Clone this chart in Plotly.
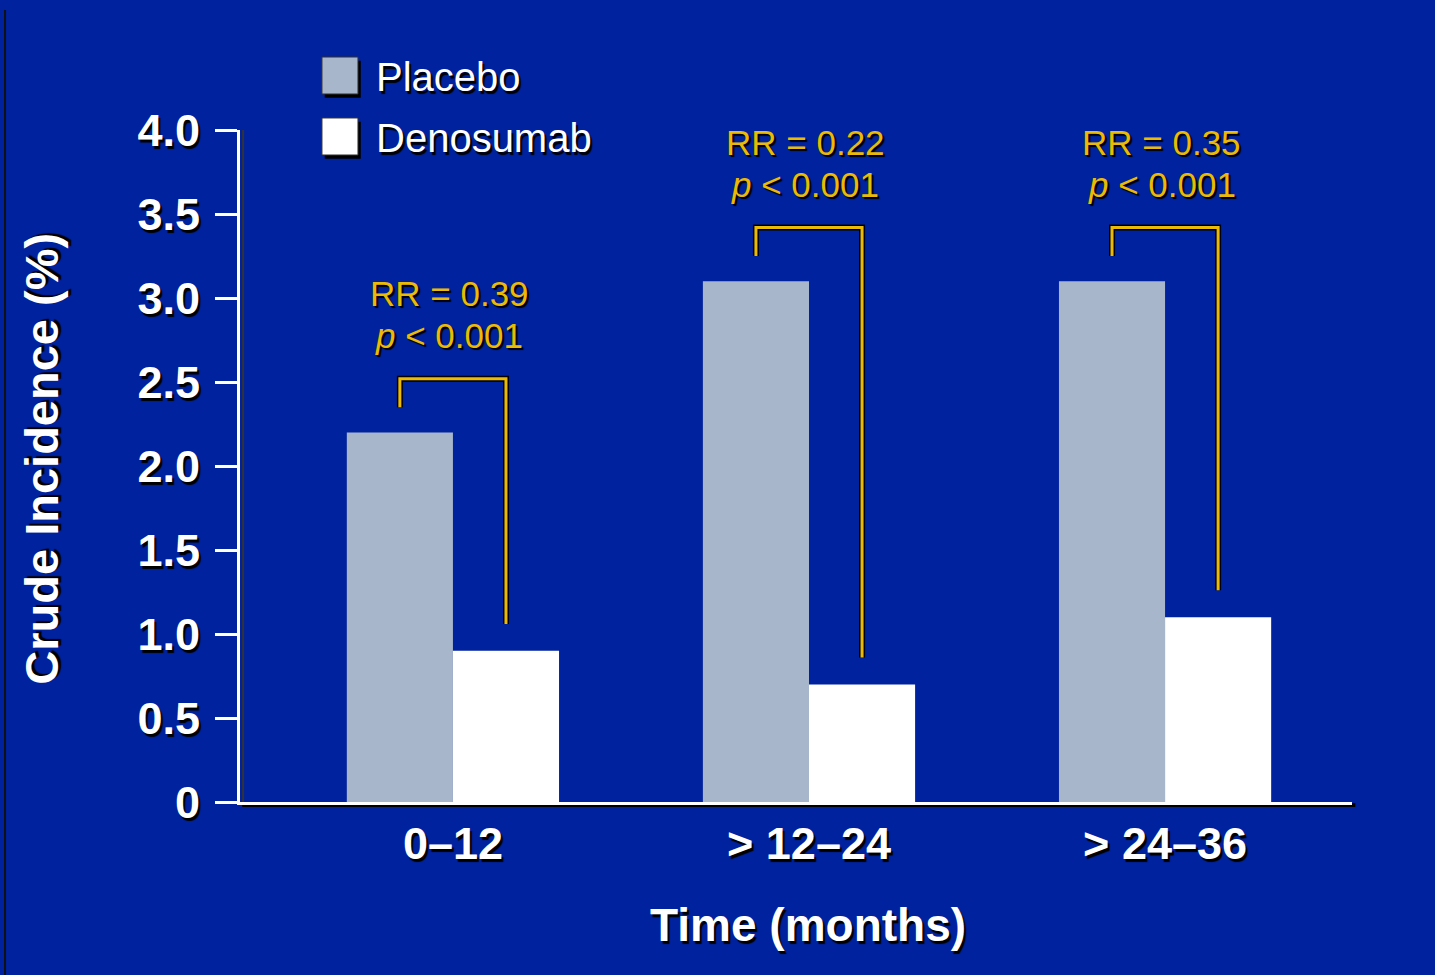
import plotly.graph_objects as go

# ---- data ----
categories = ["0\u201312", "> 12\u201324", "> 24\u201336"]
placebo = [2.2, 3.1, 3.1]
denosumab = [0.9, 0.7, 1.1]
rr_labels = ["RR = 0.39", "RR = 0.22", "RR = 0.35"]
p_labels = ["<i>p</i> &lt; 0.001", "<i>p</i> &lt; 0.001", "<i>p</i> &lt; 0.001"]
y_tickvals = [0, 0.5, 1.0, 1.5, 2.0, 2.5, 3.0, 3.5, 4.0]
y_ticktext = ["0", "0.5", "1.0", "1.5", "2.0", "2.5", "3.0", "3.5", "4.0"]
series_names = ["Placebo", "Denosumab"]

BG = "#00229E"
PLACEBO_C = "#A8B6CC"
DENO_C = "#FFFFFF"
GOLD = "#EBBA06"
FONT = "Liberation Sans, Arial, sans-serif"
SHADOW = "2px 3px 1px #000000"

idx = list(range(len(categories)))
BW = 0.298

fig = go.Figure()
fig.add_trace(go.Bar(x=idx, y=placebo, width=BW, offset=-BW, name=series_names[0],
                     marker=dict(color=PLACEBO_C, line=dict(width=0)), showlegend=False))
fig.add_trace(go.Bar(x=idx, y=denosumab, width=BW, offset=0, name=series_names[1],
                     marker=dict(color=DENO_C, line=dict(width=0)), showlegend=False))

shapes = []
annotations = []
for i in idx:
    xl = i - BW / 2
    xr = i + BW / 2
    yl = placebo[i] + 0.15
    top = placebo[i] + 0.32
    yr = denosumab[i] + 0.16
    path = f"M {xl},{yl} L {xl},{top} L {xr},{top} L {xr},{yr}"
    shapes.append(dict(type="path", path=path, xref="x", yref="y",
                       line=dict(color="#000000", width=6), layer="above"))
    shapes.append(dict(type="path", path=path, xref="x", yref="y",
                       line=dict(color=GOLD, width=3), layer="above"))
    annotations.append(dict(x=i - 0.01, y=top + 0.505, xref="x", yref="y", text=rr_labels[i],
                            showarrow=False, xanchor="center", yanchor="middle",
                            font=dict(family=FONT, size=35, color=GOLD, shadow="2px 2px 1px #000000")))
    annotations.append(dict(x=i - 0.01, y=top + 0.255, xref="x", yref="y", text=p_labels[i],
                            showarrow=False, xanchor="center", yanchor="middle",
                            font=dict(family=FONT, size=35, color=GOLD, shadow="2px 2px 1px #000000")))

# axis-line shadows
shapes.append(dict(type="line", xref="paper", yref="paper", x0=0.002, x1=1.003,
                   y0=-0.0045, y1=-0.0045, line=dict(color="#000000", width=4), layer="below"))
shapes.append(dict(type="line", xref="paper", yref="paper", x0=0.0028, x1=0.0028,
                   y0=-0.004, y1=1.0, line=dict(color="#333333", width=2), layer="below"))
# slide edge line on the left
shapes.append(dict(type="line", xref="paper", yref="paper", x0=-0.2113, x1=-0.2113,
                   y0=1.1786, y1=-0.26, line=dict(color="#111111", width=2)))

# legend (manual, large swatches)
legend_items = [(series_names[0], PLACEBO_C, 1.0536, 1.1086, 1.0789),
                (series_names[1], DENO_C, 0.9628, 1.0179, 0.988)]
for name, col, y0, y1, yt in legend_items:
    shapes.append(dict(type="rect", xref="paper", yref="paper", x0=0.0737 + 0.0025, x1=0.1061 + 0.0025,
                       y0=y0 - 0.0055, y1=y1 - 0.0055, line=dict(width=0), fillcolor="#000000"))
    shapes.append(dict(type="rect", xref="paper", yref="paper", x0=0.0737, x1=0.1061,
                       y0=y0, y1=y1, line=dict(width=1, color="#333333"), fillcolor=col))
    annotations.append(dict(x=0.1205, y=yt, xref="paper", yref="paper", text=name,
                            showarrow=False, xanchor="left", yanchor="middle",
                            font=dict(family=FONT, size=40, color="#FFFFFF", shadow=SHADOW)))

# axis titles
annotations.append(dict(x=-0.178, y=0.511, xref="paper", yref="paper", text="Crude Incidence (%)",
                        textangle=-90, showarrow=False, xanchor="center", yanchor="middle",
                        font=dict(family=FONT, size=47, color="#FFFFFF", weight="bold", shadow=SHADOW)))
annotations.append(dict(x=0.5108, y=-0.183, xref="paper", yref="paper", text="Time (months)",
                        showarrow=False, xanchor="center", yanchor="middle",
                        font=dict(family=FONT, size=46, color="#FFFFFF", weight="bold", shadow=SHADOW)))

fig.update_layout(
    width=1435, height=975,
    margin=dict(l=240, r=83, t=130, b=173),
    paper_bgcolor=BG, plot_bgcolor=BG,
    barmode="overlay",
    shapes=shapes, annotations=annotations,
    showlegend=False,
    xaxis=dict(range=[-0.598, 2.525], tickvals=idx, ticktext=categories,
               showline=True, linecolor="#FFFFFF", linewidth=3, ticks="",
               showgrid=False, zeroline=False, ticklabelstandoff=0,
               tickfont=dict(family=FONT, size=45, color="#FFFFFF", weight="bold", shadow=SHADOW)),
    yaxis=dict(range=[0, 4], tickvals=y_tickvals, ticktext=y_ticktext,
               showline=True, linecolor="#FFFFFF", linewidth=3,
               ticks="outside", ticklen=22, tickwidth=3, tickcolor="#FFFFFF",
               showgrid=False, zeroline=False, ticklabelstandoff=6,
               tickfont=dict(family=FONT, size=45, color="#FFFFFF", weight="bold", shadow=SHADOW)),
)

fig.write_html("out.html", config={"displayModeBar": False},
               post_script="document.body.style.margin='0';")
